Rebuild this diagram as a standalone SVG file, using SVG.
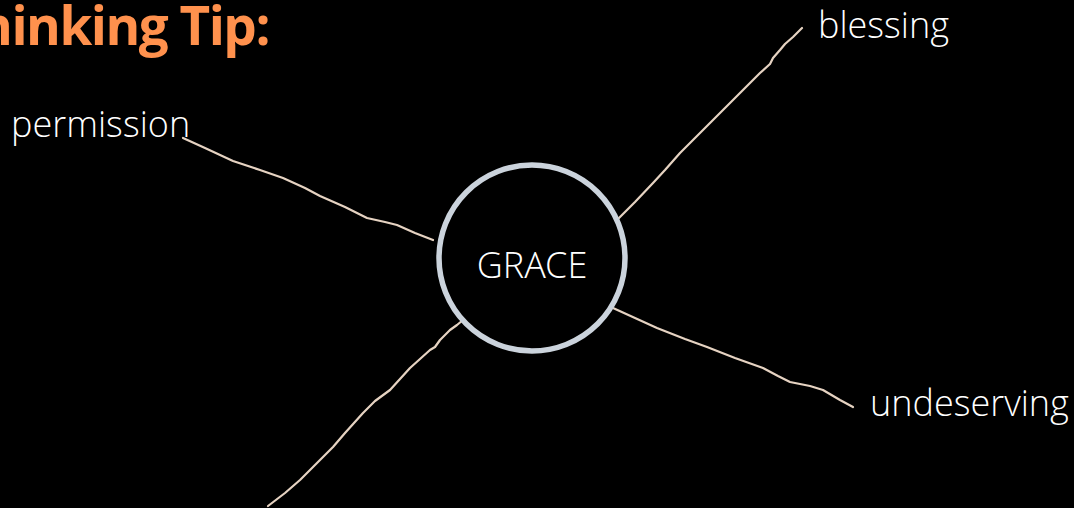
<svg xmlns="http://www.w3.org/2000/svg" width="1074" height="508" viewBox="0 0 1074 508">
<style>
.lbl{font-family:"Open Sans Light","Open Sans","Liberation Sans",sans-serif;font-weight:300;font-size:36px;fill:#FFFFFF}
.title{font-family:"Open Sans","Liberation Sans",sans-serif;font-weight:700;font-size:53px;letter-spacing:-1.5px;fill:#FF914D}
.conn{fill:none;stroke:#E6D3C2;stroke-width:2.2;stroke-linecap:round;stroke-linejoin:round}
</style>
<rect x="0" y="0" width="1074" height="508" fill="#000000"/>
<g id="title"><text class="title" x="269" y="45" text-anchor="end">Thinking Tip:</text></g>
<g id="connectors">
<path class="conn" d="M183,138 L205,148 L233,161 L260,170 L283,178 L305,188 L320,196 L345,207 L367,218 L385,222 L397,225 L415,233 L433,240"/>
<path class="conn" d="M802,28 L793,37 L785,44 L780,50 L773,58 L770,64 L760,73 L740,93 L725,108 L710,123 L695,138 L680,153 L665,170 L653,183 L635,202 L617,220"/>
<path class="conn" d="M603,303 L613,308 L635,318 L657,328 L685,339 L707,347 L735,358 L763,368 L778,376 L790,382 L810,386 L823,390 L840,400 L853,407"/>
<path class="conn" d="M463,320 L457,325 L450,330 L440,340 L435,347 L430,350 L410,368 L390,390 L375,401 L363,413 L345,433 L333,447 L315,465 L300,480 L285,493 L268,506"/>
</g>
<g id="grace">
<circle cx="532" cy="258" r="93" fill="#000000" stroke="#CBD3DC" stroke-width="5.5"/>
<text class="lbl" x="532" y="278" text-anchor="middle">GRACE</text>
</g>
<g id="permission"><text class="lbl" x="11" y="137">permission</text></g>
<g id="blessing"><text class="lbl" x="818" y="38">blessing</text></g>
<g id="undeserving"><text class="lbl" x="870" y="416">undeserving</text></g>
</svg>
